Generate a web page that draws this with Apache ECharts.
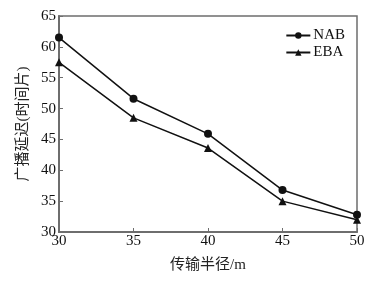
<!DOCTYPE html>
<html>
<head>
<meta charset="utf-8">
<script src="https://cdn.jsdelivr.net/npm/echarts@6/dist/echarts.min.js"></script>
<style>
  html, body { margin: 0; padding: 0; background: #fff; }
  #chart { width: 388px; height: 283px; }
</style>
</head>
<body>
<div id="chart"></div>
<script>
// 传输半径 (m)
const radius = ['30', '35', '40', '45', '50'];
// 广播延迟 (时间片)
const nabDelay = [61.5, 51.6, 45.9, 36.8, 32.8];
const ebaDelay = [57.5, 48.5, 43.6, 35.0, 32.0];

const serif = '"Liberation Serif", "Noto Sans CJK SC", serif';
const axisGray = '#6e6e6e';

const chart = echarts.init(document.getElementById('chart'));
chart.setOption({
  animation: false,
  grid: {
    left: 59, right: 31, top: 16, bottom: 51,
    show: true,
    borderColor: axisGray,
    borderWidth: 1.5
  },
  legend: {
    right: 38, top: 23,
    orient: 'vertical',
    itemGap: 2,
    itemWidth: 24, itemHeight: 8,
    textStyle: { fontFamily: serif, fontSize: 15, color: '#111', padding: [0, 0, 0, -2] },
    data: ['NAB', 'EBA']
  },
  xAxis: {
    type: 'category',
    boundaryGap: false,
    data: radius,
    name: '传输半径/m',
    nameLocation: 'middle',
    nameGap: 26,
    nameTextStyle: { fontFamily: serif, fontSize: 15, color: '#222' },
    axisLine: { lineStyle: { color: axisGray, width: 2 } },
    axisTick: { inside: true, length: 4, lineStyle: { color: axisGray } },
    axisLabel: { fontFamily: serif, fontSize: 15, color: '#111', margin: 2 },
    splitLine: { show: false }
  },
  yAxis: {
    type: 'value',
    min: 30, max: 65, interval: 5,
    name: '广播延迟(时间片)',
    nameLocation: 'middle',
    nameGap: 26,
    nameTextStyle: { fontFamily: serif, fontSize: 15, color: '#222' },
    axisLine: { show: true, lineStyle: { color: axisGray, width: 2 } },
    axisTick: { show: true, inside: true, length: 4, lineStyle: { color: axisGray } },
    axisLabel: { fontFamily: serif, fontSize: 15, color: '#111', margin: 3 },
    splitLine: { show: false }
  },
  series: [
    {
      name: 'NAB',
      type: 'line',
      data: nabDelay,
      symbol: 'circle',
      symbolSize: 8,
      lineStyle: { color: '#111', width: 1.5 },
      itemStyle: { color: '#111' }
    },
    {
      name: 'EBA',
      type: 'line',
      data: ebaDelay,
      symbol: 'triangle',
      symbolSize: 8,
      lineStyle: { color: '#111', width: 1.5 },
      itemStyle: { color: '#111' }
    }
  ]
});
</script>
</body>
</html>
